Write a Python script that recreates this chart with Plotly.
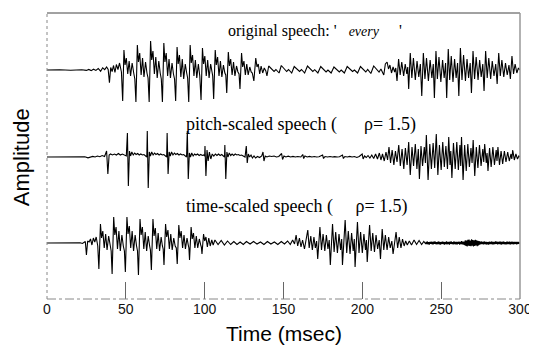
import plotly.graph_objects as go

# ---------------- data (time in msec, amplitude in arbitrary units) ----------------
ORIGINAL = [
    (0, 0), (8, 0.3), (15, -0.2), (22, 0.3), (25, -0.4), (26.5, 0.6), (28, -0.6), (29.5, 0.8), (31, -0.4),
    (32.5, 1.5), (34, -1.2), (35.3, 2.2), (36.6, 0.4), (37.8, 3.0), (38.8, 0.5),
    (39.6, -12.7), (40.4, 2.5), (41.3, -1.5), (42.2, 4.5), (43.1, -2.5), (44, 5.5), (45, 0.5), (46, 7), (47.2, -2),
    (48.0, -31), (48.8, 20), (49.5, 5), (50.3, 12), (51.2, -4), (52.1, 9), (53.0, -6), (54.0, 7), (55.0, -3), (55.7, -9),
    (56.4, -32), (57.3, 25), (58.0, 8), (58.8, 17), (59.7, -5), (60.6, 12), (61.5, -7), (62.5, 8), (63.4, -3), (64.1, -8),
    (64.8, -32), (65.7, 29), (66.4, 10), (67.2, 19), (68.1, -4), (69.0, 13), (69.9, -8), (70.9, 9), (71.8, -3), (72.5, -9),
    (73.2, -32), (74.1, 27), (74.8, 8), (75.6, 17), (76.5, -6), (77.4, 11), (78.3, -8), (79.3, 7), (80.2, -4), (80.9, -9),
    (81.6, -31), (82.5, 23), (83.2, 6), (84.0, 15), (84.9, -7), (85.8, 11), (86.7, -9), (87.7, 6), (88.6, -3), (89.2, -8),
    (89.9, -32), (90.8, 25), (91.5, 7), (92.3, 15), (93.2, -6), (94.1, 10), (95.0, -8), (96.0, 6), (96.9, -6),
    (97.7, -30), (98.6, 22), (99.3, 6), (100.1, 14), (101.0, -6), (101.9, 10), (102.8, -8), (103.8, 6), (104.7, -3), (105.1, -6),
    (105.7, -29), (106.7, 20), (107.4, 5), (108.2, 13), (109.1, -6), (110.0, 9), (110.9, -7), (111.9, 5), (112.8, -3), (113.4, -5),
    (114.0, -23), (115.0, 18), (115.7, 4), (116.5, 11), (117.4, -5), (118.3, 8), (119.2, -6), (120.2, 4), (121.1, -2), (121.8, -4),
    (122.4, -19), (123.4, 17), (124.1, 3), (124.9, 9), (125.8, -5), (126.7, 6), (127.6, -5), (128.6, 3), (129.5, -2), (130.2, -3),
    (131.2, -11), (132.4, 12), (133.2, 3), (134.0, 6), (134.9, -4), (135.8, 4), (136.8, -3), (137.8, 2), (138.8, -1),
    (139.5, -6), (140.6, 4), (142.6, 0.5), (144.0, -1.5), (145.2, 0.5), (147.2, -3),
    (148.6, 4.5), (150.6, 1), (152.0, -1.5), (153.2, 0.5), (155.2, -3),
    (156.8, 3.5), (158.8, 0.5), (160.2, -1.5), (161.4, 0.5), (163.4, -3),
    (165.2, 4), (167.2, 1), (168.6, -1.5), (169.8, 0.3), (171.8, -3),
    (173.6, 3.5), (175.6, 0.5), (177.0, -2), (178.2, 0), (180.2, -3),
    (182.0, 3), (184.0, 0.5), (185.4, -2), (186.6, 0), (188.6, -3),
    (190.4, 3.5), (192.4, 1), (193.8, -1.5), (195.0, 0), (197.0, -3),
    (198.8, 3.5), (200.8, 0.5), (202.2, -2), (203.4, 0.5), (205.4, -3.5),
    (207.2, 4), (209.2, 1), (210.6, -2), (211.8, 1), (213.6, -5),
    (214.6, 6), (215.7, 8), (216.6, 1), (217.5, 5), (218.5, -3), (219.5, 3), (220.5, -2), (221.2, 2),
    (222.0, -11), (223.0, 11), (224.0, -5), (225.0, 8), (226.2, -6), (227.2, 6), (228.2, -4), (228.8, 3),
    (229.4, -19), (230.4, 17), (231.4, -8), (232.4, 12), (233.6, -10), (234.7, 9), (235.8, -7), (236.8, 6),
    (237.7, -26), (238.7, 17), (239.7, -9), (240.7, 12), (241.9, -11), (243.0, 10), (244.1, -8), (245.0, 6),
    (245.7, -28), (246.7, 19), (247.6, -9), (248.6, 13), (249.8, -12), (250.9, 10), (251.9, -8), (252.8, 7),
    (253.5, -28), (254.5, 21), (255.4, -10), (256.4, 14), (257.5, -12), (258.5, 11), (259.5, -8), (260.4, 7),
    (261.2, -26), (262.2, 22), (263.2, -10), (264.2, 15), (265.4, -11), (266.4, 11), (267.4, -8), (268.4, 7),
    (269.2, -23), (270.2, 19), (271.2, -9), (272.2, 13), (273.4, -10), (274.4, 10), (275.4, -7), (276.4, 6),
    (277.2, -21), (278.2, 19), (279.2, -8), (280.2, 12), (281.4, -9), (282.4, 9), (283.5, -6), (284.6, 6),
    (285.5, -14), (286.5, 17), (287.5, -6), (288.5, 10), (289.7, -7), (290.8, 7), (291.9, -5), (293.0, 5),
    (293.9, -9), (294.9, 14), (295.9, -4), (296.9, 6), (298.0, -3), (299.0, 2), (300, 0),
]

PITCH_SCALED = [
    (0, 0), (10, 0.2), (20, -0.2), (24, 0.3), (26, -0.8), (27.5, -0.3), (29, 0.6), (30.5, 0), (32, 1), (33.5, 0.3),
    (35, 1.5), (36.5, 0.5), (37.8, 6), (38.6, -17), (39.4, 2), (40.3, 3), (41.5, 2), (42.8, 3), (44, 2), (45.3, 3.5),
    (46.5, 2), (47.8, 3), (49, 2), (50.3, 1),
    (51.0, 24), (51.6, -29), (52.3, 6), (53.0, 1), (53.8, 5), (54.7, 2), (55.6, 4), (56.5, 2.5), (57.5, 3.5), (58.5, 2),
    (59.5, 3), (60.5, 2), (61.5, 2.5), (62.5, 1), (63.3, 0),
    (63.6, 26), (64.2, -31), (64.9, 5), (65.6, 1), (66.4, 5), (67.3, 2), (68.2, 4), (69.1, 2.5), (70.1, 3.5), (71.1, 2),
    (72.1, 3), (73.1, 2), (74.1, 2.5), (75.1, 1), (75.9, 0),
    (76.2, 24), (76.8, -17), (77.5, 5), (78.2, 1), (79.0, 5), (79.9, 2), (80.8, 4), (81.7, 2.5), (82.7, 3.5), (83.7, 2),
    (84.7, 3), (85.7, 2), (86.7, 2.5), (87.7, 1), (88.5, 0),
    (89.0, 26), (89.6, -22), (90.3, 4), (91.0, 0), (91.8, 4), (92.7, 1), (93.6, 3), (94.5, 2), (95.5, 3), (96.5, 1.5),
    (97.5, 2.5), (98.5, 1.5), (99.4, 2), (100.0, 1),
    (100.2, 11), (100.8, -19), (101.5, 7), (102.2, -4), (103.0, 5), (103.9, -2), (104.8, 3), (105.8, 1), (106.8, 3),
    (107.8, 1.5), (108.8, 3), (109.8, 1.5), (110.8, 2.5), (111.8, 1), (112.6, 0),
    (112.8, 12), (113.4, -22), (114.1, 5), (114.8, 0), (115.6, 4), (116.5, 1.5), (117.4, 3), (118.4, 1.5), (119.4, 3),
    (120.4, 2), (121.4, 2.5), (122.4, 1.5), (123.4, 2), (124.4, 1), (125.6, 0),
    (126.4, 11), (127.0, -6), (127.7, 3), (128.5, 0), (129.4, 2), (130.3, -1), (131.3, 1),
    (132.3, -1), (133.5, 0.5), (134.8, -0.5), (136.2, 1), (137.0, 5), (137.6, -4), (138.4, 1), (139.5, 0), (141, 1),
    (142.5, 0.5), (144, 1), (145.5, 0), (147, 0.5), (148.8, 3.5), (149.4, -2.5), (150.3, 1), (151.5, 0), (153, 0.8),
    (154.5, 0), (156, 0.6), (157.5, 0), (159, 0.5), (161, 0), (162.2, 2.5), (162.8, -1.5), (163.6, 1), (165, 0),
    (166.5, 0.6), (168, 0), (169.5, 0.5), (171, 0), (172.5, 0.3), (174.8, 2), (175.4, -1.5), (176.3, 0.5), (178, 0),
    (179.5, 0.5), (181, 0), (182.5, 0.4), (184, 0), (185.5, 0.3), (187.4, 2), (188, -1.5), (188.9, 0.5), (190.5, 0),
    (192, 0.6), (193.5, 0), (195, 0.5), (196.5, -0.5), (198, 0.5), (199.9, 3), (200.5, -2), (201.4, 1), (202.5, -0.5),
    (203.6, 1.5), (204.8, -1), (206, 2), (207.2, -1.5), (208.4, 3), (209.6, -2), (210.8, 4), (211.8, -3),
    (212.8, 3), (213.9, -4), (215.0, 5), (216.0, -3), (216.9, 10), (217.9, -6), (218.9, 7), (220.0, -8), (221.0, 6),
    (222.0, -5), (223.1, 12), (224.1, -9), (225.2, 8), (226.3, -12), (227.3, 9), (228.4, -8), (229.4, 15), (230.4, -18),
    (231.5, 10), (232.5, -9), (233.6, 13), (234.6, -12), (235.5, 8), (236.2, -22), (237.2, 11), (238.2, -9), (239.3, 10),
    (240.0, -6), (240.6, 22), (241.7, -23), (242.8, 13), (243.8, -12), (244.9, 14), (245.9, -11), (246.9, 23),
    (247.9, -18), (248.9, 12), (250.0, -13), (251.0, 15), (252.0, -10), (253.0, 11), (254.0, -12), (254.8, 20),
    (255.6, -8), (256.1, 6), (256.8, -21), (257.8, 14), (258.9, -12), (259.9, 15), (260.9, -13), (261.9, 12),
    (262.4, -9), (262.9, 20), (263.9, -23), (264.9, 12), (265.9, -14), (266.9, 13), (267.9, -10), (268.9, 9),
    (269.6, -6), (270.3, 17), (271.3, -19), (272.3, 10), (273.3, -11), (274.3, 12), (275.3, -9), (276.4, 8),
    (277.0, -5), (277.6, 13), (278.6, -6), (279.1, 4), (279.7, -14), (280.7, 9), (281.7, -10), (282.8, 10),
    (283.8, -8), (284.9, 7), (285.4, -4), (286.0, 10), (287.0, -8), (288.0, 6), (289.0, -7), (290.1, 6), (291.1, -5),
    (292.2, 5), (293.2, -4), (294.3, 3), (294.8, -2), (295.4, 7), (296.4, -3), (297.4, 3), (298.4, -2), (299.3, 1), (300, 0),
]

TIME_SCALED = [
    (0, 0), (10, 0.2), (18, -0.2), (21, 0.3), (22.5, -0.5), (23.5, 0.8), (24.3, 1.5), (25.0, -12), (25.8, 2),
    (26.7, 1), (27.6, 4), (28.5, -2), (29.4, 5), (30.3, 1), (31.2, 6), (32.2, -3),
    (32.9, -26), (33.9, 19), (34.6, 5), (35.4, 12), (36.3, -5), (37.2, 9), (38.1, -7), (39.1, 7), (40.0, -3), (40.7, -8),
    (41.3, -31), (42.3, 26), (43.0, 8), (43.8, 16), (44.7, -6), (45.6, 12), (46.5, -8), (47.5, 8), (48.4, -3), (49.1, -8),
    (49.7, -29), (50.7, 26), (51.4, 9), (52.2, 17), (53.1, -5), (54.0, 12), (54.9, -8), (55.9, 8), (56.8, -3), (57.4, -8),
    (58.0, -32), (59.0, 24), (59.7, 8), (60.5, 16), (61.4, -6), (62.3, 11), (63.2, -8), (64.2, 7), (65.1, -3), (65.6, -7),
    (66.2, -27), (67.2, 24), (67.9, 7), (68.7, 15), (69.6, -6), (70.5, 10), (71.4, -8), (72.4, 6), (73.2, -3), (73.7, -6),
    (74.2, -22), (75.2, 19), (75.9, 6), (76.7, 13), (77.6, -6), (78.5, 9), (79.4, -7), (80.4, 5), (81.3, -3), (82.0, -5),
    (82.6, -21), (83.6, 18), (84.3, 5), (85.1, 12), (86.0, -5), (86.9, 8), (87.8, -6), (88.8, 5), (89.6, -2), (90.0, -5),
    (90.4, -17), (91.4, 16), (92.1, 4), (92.9, 10), (93.8, -5), (94.7, 7), (95.6, -5), (96.6, 4), (97.5, -2), (97.9, -4),
    (98.3, -11), (99.3, 9), (100.0, 2), (100.8, 6), (101.7, -4), (102.6, 5), (103.5, -3), (104.5, 3), (105.4, -2),
    (106.5, 3), (108.5, -1.5), (110.5, 2.5), (112.5, -2), (114.5, 2), (116.5, -1.5), (118.5, 1.5), (120.5, -1.5),
    (122.5, 1), (124.5, -1.5), (126.5, 1.5), (128.8, -1), (131.0, 1.5), (133.2, -1), (135.4, 1), (137.6, -1.5),
    (139.8, 1.5), (142.0, -1), (144.2, 1), (146.4, -1.5), (148.6, 1.5), (150.6, -1), (152.6, 2), (154.3, -1.5),
    (155.8, 3), (157.0, -1),
    (158.0, 8), (159.0, -3), (160.1, 5), (161.1, -4), (162.1, 3),
    (163.3, -6), (164.2, 3), (165.4, 13), (166.3, -5), (167.3, 7), (168.3, -7), (169.3, 6), (170.2, -5), (171.0, 2),
    (171.7, -16), (172.4, 5), (173.1, 16), (174.1, -7), (175.1, 9), (176.2, -8), (177.2, 8), (178.2, -6), (179.0, 3),
    (179.7, -22), (180.4, 6), (181.1, 19), (182.1, -9), (183.1, 11), (184.2, -10), (185.2, 9), (186.2, -7), (186.9, 4),
    (187.4, -22), (188.3, 7), (189.1, 23), (190.1, -10), (191.1, 12), (192.2, -11), (193.2, 10), (194.2, -8), (194.9, 4),
    (195.4, -24), (196.2, 6), (196.9, 21), (197.9, -10), (198.9, 11), (200.0, -10), (201.0, 9), (202.0, -7), (202.6, 3),
    (203.1, -19), (203.9, 5), (204.6, 18), (205.6, -8), (206.6, 10), (207.7, -9), (208.7, 8), (209.7, -6), (210.7, 3),
    (211.5, -16), (212.0, 4), (212.6, 14), (213.6, -7), (214.6, 8), (215.7, -7), (216.7, 6), (217.7, -5), (218.7, 2),
    (219.5, -11), (220.5, 3), (221.4, 11), (222.4, -5), (223.4, 6), (224.5, -5), (225.5, 4), (226.5, -3), (227.5, 2),
    (228.5, -2), (229.8, 2), (231.2, -2), (232.8, 3), (234.4, -1.5), (236.0, 2.5), (237.6, -1.5), (239.0, 1.5), (240.2, -1),
]

# low-level residual noise at the end of the time-scaled signal, one sample every NOISE_DT msec
NOISE_T0 = 240.5
NOISE_DT = 0.4
NOISE = [
    1.2, -1.0, 1.5, -1.3, 0.9, -1.6, 1.1, -0.8, 1.4, -1.2, 1.0, -1.5, 1.3, -0.9, 1.6, -1.1, 0.8, -1.4, 1.2, -1.0,
    1.5, -1.3, 1.0, -1.7, 1.2, -0.9, 1.4, -1.2, 1.1, -1.5, 0.9, -1.0, 1.6, -1.3, 1.2, -1.1, 1.0, -1.6, 1.3, -0.8,
    1.5, -1.2, 0.9, -1.4, 1.7, -1.1, 1.0, -1.3, 1.2, -1.5, 1.1, -0.9, 1.4, -1.6, 1.0, -1.2, 1.8, -1.4, 1.3, -1.7, 1.5,
    -2.2, 2.8, -3.0, 2.5, -3.4, 3.1, -2.6, 3.5, -2.9, 2.4, -3.2, 3.6, -2.7, 3.0, -3.5, 2.6, -2.9, 3.3, -2.4, 2.7,
    -3.1, 2.2, -2.5, 1.9,
    -1.6, 1.3, -1.1, 1.5, -1.2, 1.0, -1.4, 1.6, -1.0, 1.2, -1.5, 1.1, -1.3, 0.9, -1.6, 1.4, -1.1, 1.2, -1.0, 1.5,
    -1.3, 1.1, -1.4, 1.0, -1.2, 1.6, -0.9, 1.3, -1.5, 1.2, -1.1, 1.4, -1.0, 1.3, -1.6, 1.1, -1.2, 1.5, -1.0, 1.2,
    -1.4, 0.9, -1.3, 1.5, -1.1, 1.0, -1.2, 1.4, -1.5, 1.1, -1.0, 1.3, -1.2, 1.0, -1.4, 1.2, -0.9, 1.1, -1.3, 1.0,
    -1.1, 1.2, -0.8, 0.6,
]

X_TICKS = [0, 50, 100, 150, 200, 250, 300]
LABEL_ORIG = ("original speech: '&nbsp;&nbsp;&nbsp;<i><span style='font-size:14px'>every</span></i>"
              "&nbsp;&nbsp;&nbsp;&nbsp; '")
LABEL_PITCH = "pitch-scaled speech (&nbsp;&nbsp;&nbsp;&nbsp;&nbsp;&nbsp;ρ= 1.5)"
LABEL_TIME = "time-scaled speech (&nbsp;&nbsp;&nbsp;&nbsp;&nbsp;ρ= 1.5)"

# ---------------- figure ----------------
# the page body has an 8px margin, so the figure is 8px smaller than the 537x345 window
OFF = 8
W, H = 537 - OFF, 345 - OFF
ML, MR, MT, MB = 47 - OFF, 13, 13 - OFF, 46
PW = W - ML - MR   # 477
PH = H - MT - MB   # 286
X0, YB = ML + OFF, H - MB + OFF   # window px of the plot's left / bottom edges


def yfrac(py):
    return (YB - py) / PH


def xfrac(px):
    return (px - X0) / PW


def split(pairs):
    return [p[0] for p in pairs], [p[1] for p in pairs]


ot, oa = split(ORIGINAL)
pt, pa = split(PITCH_SCALED)
tt, ta = split(TIME_SCALED)
tt = tt + [NOISE_T0 + i * NOISE_DT for i in range(len(NOISE))]
ta = ta + NOISE

line = dict(color="black", width=1.1)
fig = go.Figure()
fig.add_trace(go.Scatter(x=ot, y=oa, mode="lines", line=line, xaxis="x", yaxis="y", hoverinfo="skip"))
fig.add_trace(go.Scatter(x=pt, y=pa, mode="lines", line=line, xaxis="x", yaxis="y2", hoverinfo="skip"))
fig.add_trace(go.Scatter(x=tt, y=ta, mode="lines", line=line, xaxis="x", yaxis="y3", hoverinfo="skip"))

DOM = 0.3
HALF = DOM * PH / 2
baselines = [70, 157, 243]
yax = {}
for i, b in enumerate(baselines):
    c = yfrac(b)
    key = "yaxis" if i == 0 else f"yaxis{i + 1}"
    yax[key] = dict(domain=[c - DOM / 2, c + DOM / 2], range=[-HALF, HALF], visible=False,
                    anchor="x", fixedrange=True)

serif_family = "Liberation Serif, Times New Roman, serif"
sans = "Liberation Sans, Arial, sans-serif"

annotations = [
    dict(text=LABEL_ORIG, x=xfrac(228), y=yfrac(31), xref="paper", yref="paper",
         xanchor="left", yanchor="middle", showarrow=False,
         font=dict(family=serif_family, size=16, color="black")),
    dict(text=LABEL_PITCH, x=xfrac(185), y=yfrac(124), xref="paper", yref="paper",
         xanchor="left", yanchor="middle", showarrow=False,
         font=dict(family=serif_family, size=18, color="black")),
    dict(text=LABEL_TIME, x=xfrac(185), y=yfrac(206), xref="paper", yref="paper",
         xanchor="left", yanchor="middle", showarrow=False,
         font=dict(family=serif_family, size=18, color="black")),
    dict(text="Time (msec)", x=0.5, y=yfrac(333), xref="paper", yref="paper", xanchor="center",
         yanchor="middle", showarrow=False, font=dict(family=sans, size=21, color="black")),
    dict(text="Amplitude", x=xfrac(21), y=yfrac(157), xref="paper", yref="paper",
         xanchor="center", yanchor="middle", textangle=-90, showarrow=False,
         font=dict(family=sans, size=22, color="black")),
]

shapes = [
    dict(type="line", xref="paper", yref="paper", x0=0, x1=1, y0=1, y1=1, line=dict(color="#444", width=1)),
    dict(type="line", xref="paper", yref="paper", x0=1, x1=1, y0=0, y1=1, line=dict(color="#999", width=1.5)),
    dict(type="line", xref="paper", yref="paper", x0=0, x1=0, y0=0, y1=1, line=dict(color="#888", width=1, dash="dot")),
    dict(type="line", xref="paper", yref="paper", x0=0, x1=1, y0=0, y1=0, line=dict(color="#888", width=1, dash="dashdot")),
]

fig.update_layout(
    width=W, height=H, margin=dict(l=ML, r=MR, t=MT, b=MB),
    paper_bgcolor="white", plot_bgcolor="white", showlegend=False,
    xaxis=dict(range=[0, 300], tickvals=X_TICKS, ticks="inside", ticklen=17, tickcolor="#666", tickwidth=1,
               showgrid=False, zeroline=False, showline=False, anchor="free", position=0, fixedrange=True,
               ticklabeloverflow="allow",
               tickfont=dict(family=sans, size=14, color="#111")),
    annotations=annotations, shapes=shapes,
    **yax,
)

fig.write_html("out.html")
